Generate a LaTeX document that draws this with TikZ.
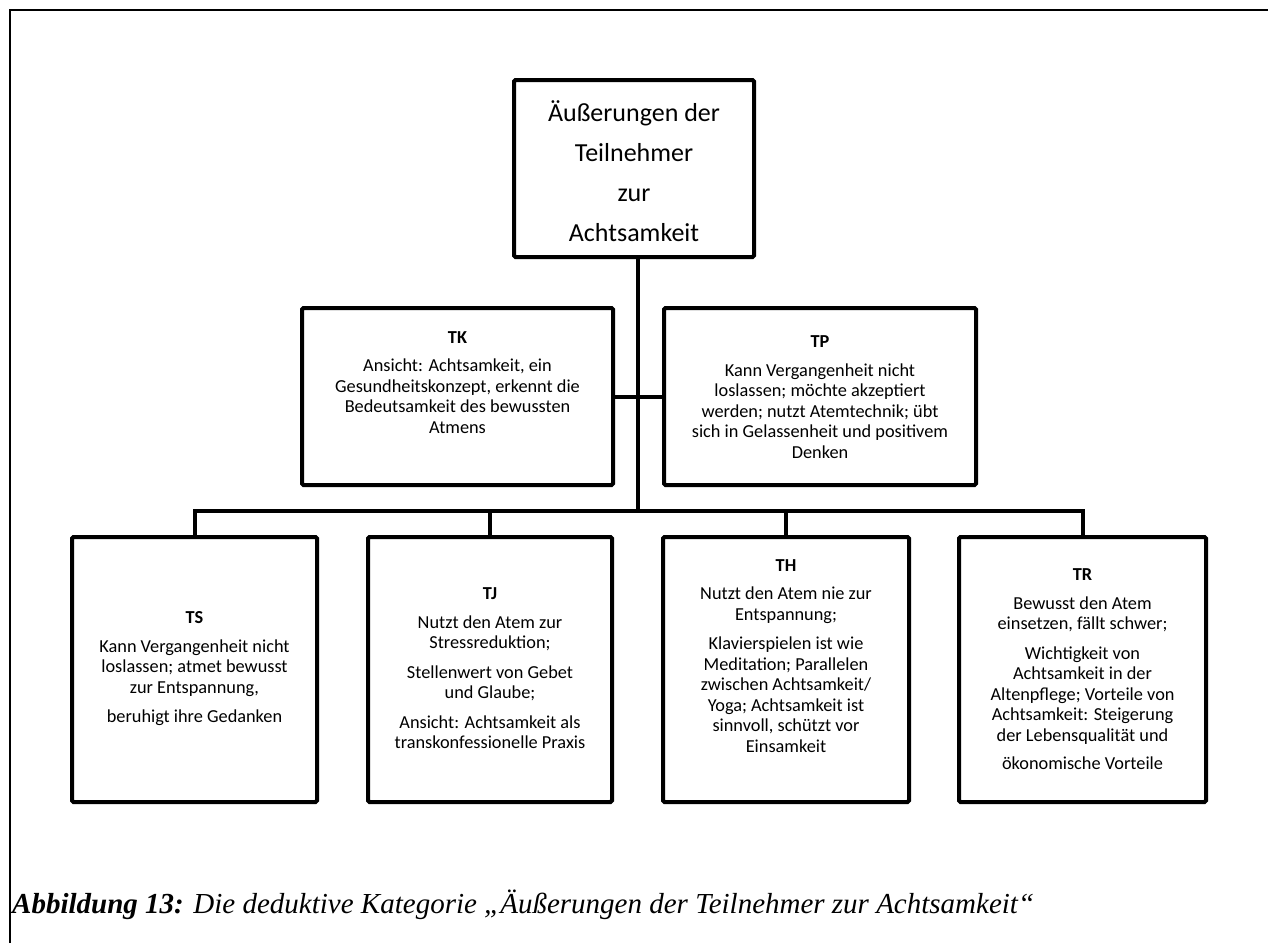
\documentclass[tikz,border=0pt]{standalone}
\usepackage{fontspec}
\setmainfont{Carlito}
\newfontfamily\captfont{Liberation Serif}
\begin{document}
\begin{tikzpicture}[x=1pt,y=-1pt,
  box/.style={draw=black, line width=4pt, rounded corners=1.5pt, inner sep=0pt, fill=white},
  txt/.style={align=center, inner sep=0pt, font=\fontsize{18.3}{20.5}\selectfont},
  conn/.style={line width=4pt, line cap=rect}]
\useasboundingbox (0,0) rectangle (1268,943);
\fill[white] (0,0) rectangle (1268,943);
\draw[line width=2pt] (10,943) -- (10,10) -- (1268,10);

\coordinate (j) at (638,511);

% root
\node[box, minimum width=240pt, minimum height=177pt] (root) at (634,168.5) {};
\node[align=center, inner sep=0pt, font=\fontsize{26}{40}\selectfont] (rootT) at (634,171)
  {Äußerungen der\\ Teilnehmer\\ zur\\ Achtsamkeit};

% second row
\node[box, minimum width=311pt, minimum height=177pt] (tk) at (457.5,396.5) {};
\node[box, minimum width=312pt, minimum height=177pt] (tp) at (820,396.5) {};
\node[txt] (tkT) at (457.5,382.5) {\textbf{TK}\\[8pt]
  Ansicht: Achtsamkeit, ein\\ Gesundheitskonzept, erkennt die\\ Bedeutsamkeit des bewussten\\ Atmens};
\node[txt] (tpT) at (820,397) {\textbf{TP}\\[8pt]
  Kann Vergangenheit nicht\\ loslassen; möchte akzeptiert\\ werden; nutzt Atemtechnik; übt\\ sich in Gelassenheit und positivem\\ Denken};

% bottom row
\node[box, minimum width=245pt, minimum height=265pt] (ts) at (194.5,669.5) {};
\node[box, minimum width=244pt, minimum height=265pt] (tj) at (490,669.5) {};
\node[box, minimum width=246pt, minimum height=265pt] (th) at (786,669.5) {};
\node[box, minimum width=247pt, minimum height=265pt] (tr) at (1082.5,669.5) {};

\node[txt] (tsT) at (194.5,669) {\textbf{TS}\\[8pt]
  Kann Vergangenheit nicht\\ loslassen; atmet bewusst\\ zur Entspannung,\\[9pt] beruhigt ihre Gedanken};
\node[txt] (tjT) at (490,668.5) {\textbf{TJ}\\[8pt]
  Nutzt den Atem zur\\ Stressreduktion;\\[9pt] Stellenwert von Gebet\\ und Glaube;\\[9pt]
  Ansicht: Achtsamkeit als\\ transkonfessionelle Praxis};
\node[txt] (thT) at (786,656) {\textbf{TH}\\[8pt]
  Nutzt den Atem nie zur\\ Entspannung;\\[9pt] Klavierspielen ist wie\\ Meditation; Parallelen\\
  zwischen Achtsamkeit/\\ Yoga; Achtsamkeit ist\\ sinnvoll, schützt vor\\ Einsamkeit};
\node[txt] (trT) at (1082.5,669.5) {\textbf{TR}\\[8pt]
  Bewusst den Atem\\ einsetzen, fällt schwer;\\[9pt] Wichtigkeit von\\ Achtsamkeit in der\\
  Altenpflege; Vorteile von\\ Achtsamkeit: Steigerung\\ der Lebensqualität und\\[8pt] ökonomische Vorteile};

% connectors
\draw[conn] (j |- root.south) -- (j);
\draw[conn] (tk.east) -- (tp.west);
\draw[conn] (ts.north) -- (ts.north |- j) -- (tr.north |- j) -- (tr.north);
\draw[conn] (tj.north) -- (tj.north |- j);
\draw[conn] (th.north) -- (th.north |- j);

% caption
\node[anchor=west, inner sep=0pt, font=\captfont\fontsize{29}{32}\selectfont] (cap) at (12,905)
  {\textbf{\textit{Abbildung 13:}} \textit{Die deduktive Kategorie „Äußerungen der Teilnehmer zur Achtsamkeit“}};
\end{tikzpicture}
\end{document}
